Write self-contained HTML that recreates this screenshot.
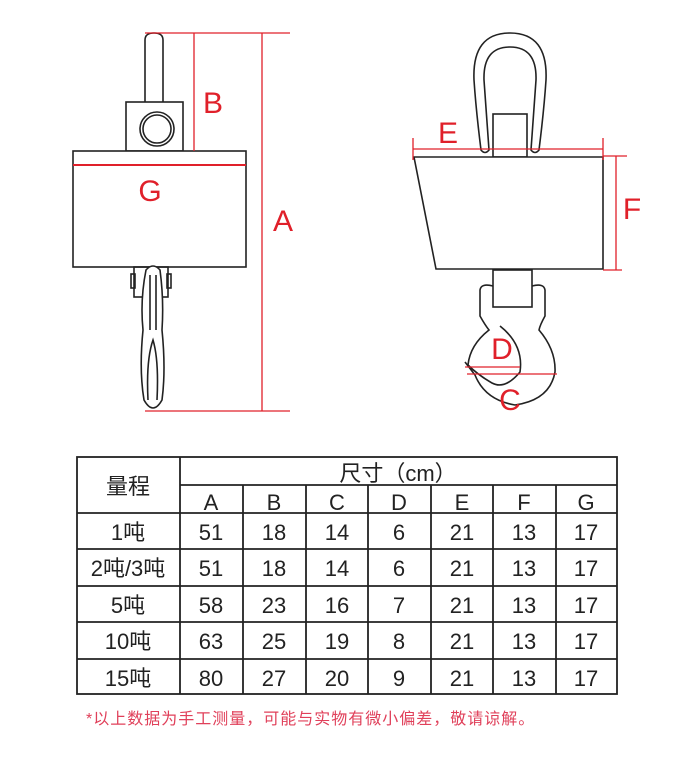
<!DOCTYPE html>
<html><head><meta charset="utf-8"><style>
html,body{margin:0;padding:0;background:#fff;width:700px;height:759px;overflow:hidden}
svg{position:absolute;left:0;top:0}
text{font-family:"Liberation Sans","Noto Sans CJK SC",sans-serif}
</style></head><body>
<svg width="700" height="759" viewBox="0 0 700 759">
<g fill="none" stroke="#222" stroke-width="1.6">
<path d="M145,103 V40 Q145,33 154,33 Q163,33 163,40 V103"/>
<rect x="126" y="102" width="57" height="49" fill="#fff"/>
<circle cx="157" cy="129" r="17"/>
<circle cx="157" cy="129" r="14"/>
<rect x="73" y="151" width="173" height="116" fill="#fff"/>
<rect x="134" y="267" width="34" height="30"/>
<rect x="131" y="274" width="4" height="14"/>
<rect x="167" y="274" width="4" height="14"/>
<path d="M146,270 Q153,262 160,270 Q164,300 162,330 Q166,370 162,400 Q153,416 144,400 Q139,370 143,330 Q140,300 146,270Z" fill="#fff"/>
<path d="M150,275 V330 M156,275 V330 M148,400 Q146,360 153,340 Q159,360 157,400"/>
<path d="M481,150 Q476,110 474,80 Q472,33 510,33 Q548,33 546,80 Q544,110 539,150 Q535,155 531,150 Q534,110 536,80 Q537,47 510,47 Q483,47 484,80 Q486,110 489,150 Q485,155 481,150Z"/>
<rect x="493" y="114" width="34" height="43" fill="#fff"/>
<path d="M414,157 H603 V269 H436 Z" fill="#fff"/>
<rect x="493" y="270" width="39" height="37" fill="#fff"/>
<path d="M493,286 Q481,283 480,290 V316 Q485,325 489,330 Q470,345 468,365 Q478,375 492,383 Q505,390 520,372 Q524,345 500,326 M532,286 Q544,283 545,290 V316 Q540,325 539,330 Q556,350 555,372 Q550,400 515,405 Q485,400 475,375 L465,362"/>
</g>
<g stroke="#e0202a" stroke-width="1.3" fill="none">
<line x1="145" y1="33" x2="290" y2="33"/>
<line x1="194" y1="33" x2="194" y2="151"/>
<line x1="262" y1="33" x2="262" y2="411"/>
<line x1="145" y1="411" x2="290" y2="411"/>
<line x1="73" y1="165" x2="246" y2="165" stroke-width="2"/>
<line x1="413" y1="149" x2="603" y2="149"/>
<line x1="413" y1="138" x2="413" y2="160"/>
<line x1="603" y1="138" x2="603" y2="160"/>
<line x1="616" y1="156" x2="616" y2="270"/>
<line x1="603" y1="156" x2="627" y2="156"/>
<line x1="603" y1="270" x2="622" y2="270"/>
<line x1="465" y1="367" x2="520" y2="367"/>
<line x1="467" y1="374" x2="557" y2="374"/>
</g>
<g fill="#e0202a" font-size="30" text-anchor="middle">
<text x="213" y="113">B</text>
<text x="150" y="201">G</text>
<text x="283" y="231">A</text>
<text x="448" y="143">E</text>
<text x="632" y="219">F</text>
<text x="502" y="359">D</text>
<text x="510" y="410">C</text>
</g>
<g stroke="#222" stroke-width="1.8">
<rect x="77" y="457" width="540" height="237" fill="none"/>
<line x1="180" y1="457" x2="180" y2="694"/>
<line x1="180" y1="485" x2="617" y2="485"/>
<line x1="77" y1="513" x2="617" y2="513"/>
<line x1="77" y1="549" x2="617" y2="549"/>
<line x1="77" y1="586" x2="617" y2="586"/>
<line x1="77" y1="622" x2="617" y2="622"/>
<line x1="77" y1="659" x2="617" y2="659"/>
<line x1="243" y1="485" x2="243" y2="694"/>
<line x1="306" y1="485" x2="306" y2="694"/>
<line x1="368" y1="485" x2="368" y2="694"/>
<line x1="431" y1="485" x2="431" y2="694"/>
<line x1="493" y1="485" x2="493" y2="694"/>
<line x1="556" y1="485" x2="556" y2="694"/>
</g>
<g fill="#222" font-size="22" text-anchor="middle">
<text x="128" y="494">量程</text>
<text x="398" y="481">尺寸（cm）</text>
<text x="211" y="510">A</text><text x="274" y="510">B</text><text x="337" y="510">C</text><text x="399" y="510">D</text><text x="462" y="510">E</text><text x="524" y="510">F</text><text x="586" y="510">G</text>
<text x="128" y="540">1吨</text>
<text x="128" y="576">2吨/3吨</text>
<text x="128" y="613">5吨</text>
<text x="128" y="649">10吨</text>
<text x="128" y="686">15吨</text>
<text x="211" y="540">51</text><text x="274" y="540">18</text><text x="337" y="540">14</text><text x="399" y="540">6</text><text x="462" y="540">21</text><text x="524" y="540">13</text><text x="586" y="540">17</text>
<text x="211" y="576">51</text><text x="274" y="576">18</text><text x="337" y="576">14</text><text x="399" y="576">6</text><text x="462" y="576">21</text><text x="524" y="576">13</text><text x="586" y="576">17</text>
<text x="211" y="613">58</text><text x="274" y="613">23</text><text x="337" y="613">16</text><text x="399" y="613">7</text><text x="462" y="613">21</text><text x="524" y="613">13</text><text x="586" y="613">17</text>
<text x="211" y="649">63</text><text x="274" y="649">25</text><text x="337" y="649">19</text><text x="399" y="649">8</text><text x="462" y="649">21</text><text x="524" y="649">13</text><text x="586" y="649">17</text>
<text x="211" y="686">80</text><text x="274" y="686">27</text><text x="337" y="686">20</text><text x="399" y="686">9</text><text x="462" y="686">21</text><text x="524" y="686">13</text><text x="586" y="686">17</text>
</g>
<text x="86" y="724" fill="#e0405a" font-size="16" letter-spacing="1">*以上数据为手工测量，可能与实物有微小偏差，敬请谅解。</text>
</svg>
</body></html>
